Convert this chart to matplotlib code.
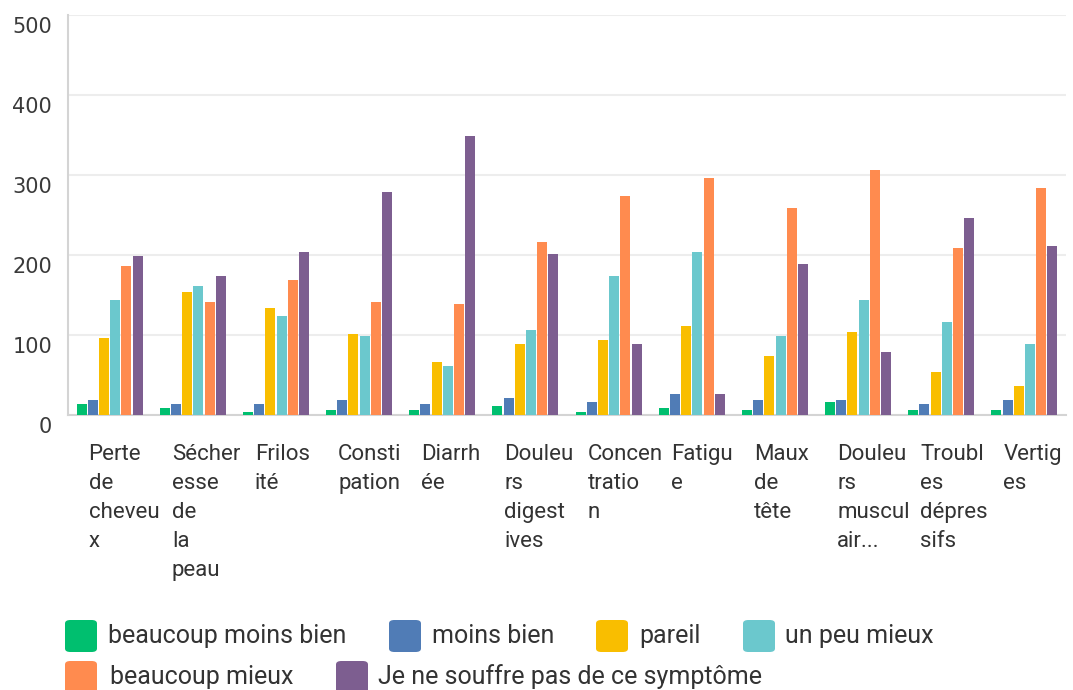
import matplotlib
matplotlib.use("Agg")
import matplotlib.pyplot as plt
import numpy as np
from matplotlib.patches import FancyBboxPatch
from matplotlib.transforms import ScaledTranslation, blended_transform_factory

categories = ["Perte\nde\ncheveu\nx", "Sécher\nesse\nde\nla\npeau", "Frilos\nité",
              "Consti\npation", "Diarrh\née", "Douleu\nrs\ndigest\nives",
              "Concen\ntratio\nn", "Fatigu\ne", "Maux\nde\ntête",
              "Douleu\nrs\nmuscul\nair...", "Troubl\nes\ndépres\nsifs", "Vertig\nes"]

series_names = ["beaucoup moins bien", "moins bien", "pareil", "un peu mieux",
                "beaucoup mieux", "Je ne souffre pas de ce symptôme"]

beaucoup_moins_bien = [14, 9, 4, 7, 7, 12, 4, 9, 7, 16, 7, 7]
moins_bien = [19, 14, 14, 19, 14, 22, 16, 26, 19, 19, 14, 19]
pareil = [96, 154, 134, 102, 67, 89, 94, 112, 74, 104, 54, 37]
un_peu_mieux = [144, 162, 124, 99, 62, 107, 174, 204, 99, 144, 117, 89]
beaucoup_mieux = [187, 142, 169, 142, 139, 217, 274, 297, 259, 307, 209, 284]
ne_souffre_pas = [199, 174, 204, 279, 349, 202, 89, 26, 189, 79, 247, 212]

yticks = [0, 100, 200, 300, 400, 500]

colors = ["#00BF6F", "#507CB6", "#F9BE00", "#6BC8CD", "#FF8B4F", "#7D5E90"]

series = [beaucoup_moins_bien, moins_bien, pareil, un_peu_mieux, beaucoup_mieux, ne_souffre_pas]

plt.rcParams['font.family'] = ['Roboto', 'DejaVu Sans']

fig = plt.figure(figsize=(10.73, 6.90), dpi=100)
ax = fig.add_axes([68/1073, 1 - 415.3/690, (1066-68)/1073, (415.3-15)/690])

x = np.arange(len(categories))
step = 0.135
width = 0.12
for i, (vals, c) in enumerate(zip(series, colors)):
    ax.bar(x + (i - 2.5) * step, vals, width=width, color=c, zorder=3)

ax.set_xlim(-0.5, len(categories) - 0.5)
ax.set_ylim(0, 500)
ax.set_yticks(yticks)
ax.set_yticklabels([])
ax.tick_params(axis='y', length=0, pad=0)
ytrans = blended_transform_factory(ax.transAxes, ax.transData) + \
    ScaledTranslation(-0.16, -0.02, fig.dpi_scale_trans)
for v in yticks:
    ax.text(0, v, str(v), transform=ytrans, ha='right', va='top', fontsize=15,
            color="#3a3a3a", family=['DejaVu Sans'])
ax.grid(axis='y', color="#EDEDED", linewidth=1.5, zorder=0)
ax.set_axisbelow(True)
for s in ["top", "right"]:
    ax.spines[s].set_visible(False)
ax.spines["left"].set_color("#D4D4D4")
ax.spines["left"].set_linewidth(1.5)
ax.spines["bottom"].set_color("#D4D4D4")
ax.spines["bottom"].set_linewidth(1.5)

ax.set_xticks(x)
ax.set_xticklabels(categories, fontsize=16, color="#333333", ha='left', va='top',
                   linespacing=1.5)
ax.tick_params(axis='x', length=0, pad=21)
for lab in ax.get_xticklabels():
    lab.set_transform(lab.get_transform() + ScaledTranslation(-0.21, 0, fig.dpi_scale_trans))

# legend drawn as flowing rows: (series index, square left px, text left px)
legend_rows = [
    [(0, 65, 108), (1, 389, 432), (2, 596, 639), (3, 743, 785)],
    [(4, 65, 110), (5, 336, 378)],
]
row_y = [636, 677]
for row, yc in zip(legend_rows, row_y):
    for idx, xs, xt in row:
        box = FancyBboxPatch((xs / 1073, 1 - (yc + 16) / 690), 32 / 1073, 32 / 690,
                             boxstyle="round,pad=0,rounding_size=0.005",
                             transform=fig.transFigure, facecolor=colors[idx],
                             edgecolor='none')
        fig.patches.append(box)
        fig.text(xt / 1073, 1 - yc / 690, series_names[idx], fontsize=18,
                 color="#333333", va='center', ha='left')

fig.savefig("out.png", dpi=100)
